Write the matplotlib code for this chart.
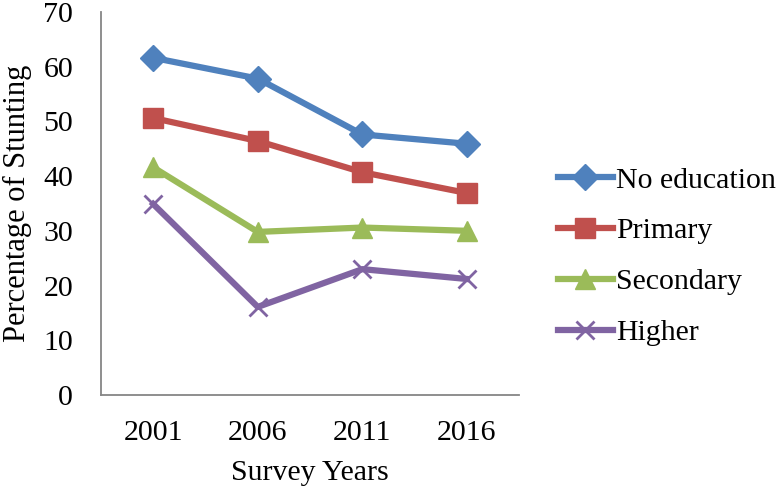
import matplotlib.pyplot as plt

years = ['2001', '2006', '2011', '2016']
no_education = [61.6, 57.8, 47.6, 45.9]
primary = [50.6, 46.4, 40.7, 36.9]
secondary = [41.6, 29.8, 30.6, 30.0]
higher = [34.9, 16.1, 23.0, 21.2]

plt.rcParams['font.family'] = 'Liberation Serif'
fs = 21.5

fig = plt.figure(figsize=(7.82, 4.92), dpi=100)
ax = fig.add_axes([0.129, 0.197, 0.535, 0.779])

x = range(len(years))
ax.plot(x, no_education, color='#4F81BD', marker='D', markersize=13, linewidth=4.5, label='No education')
ax.plot(x, primary, color='#C0504D', marker='s', markersize=14, linewidth=4.5, label='Primary')
ax.plot(x, secondary, color='#9BBB59', marker='^', markersize=14, linewidth=4.5, label='Secondary')
ax.plot(x, higher, color='#8064A2', marker='x', markersize=13, markeredgewidth=2, linewidth=4.5, label='Higher')

ax.set_xlim(-0.5, 3.5)
ax.set_ylim(0, 70)
ax.set_xticks(list(x))
ax.set_xticklabels(years)
ax.set_yticks(range(0, 71, 10))
ax.tick_params(length=0, labelsize=fs)
ax.tick_params(axis='x', pad=18)
ax.tick_params(axis='y', pad=20)

for side in ['top', 'right']:
    ax.spines[side].set_visible(False)
for side in ['left', 'bottom']:
    ax.spines[side].set_color('#868686')
    ax.spines[side].set_linewidth(1.3)

ax.set_xlabel('Survey Years', fontsize=fs, labelpad=10)
ax.set_ylabel('Percentage of Stunting', fontsize=22, labelpad=8)

ax.legend(loc='center left', bbox_to_anchor=(1.028, 0.362), frameon=False,
          fontsize=fs, handlelength=1.84, handletextpad=0.1, labelspacing=0.8)

plt.savefig('out.png', dpi=100)
plt.close()
